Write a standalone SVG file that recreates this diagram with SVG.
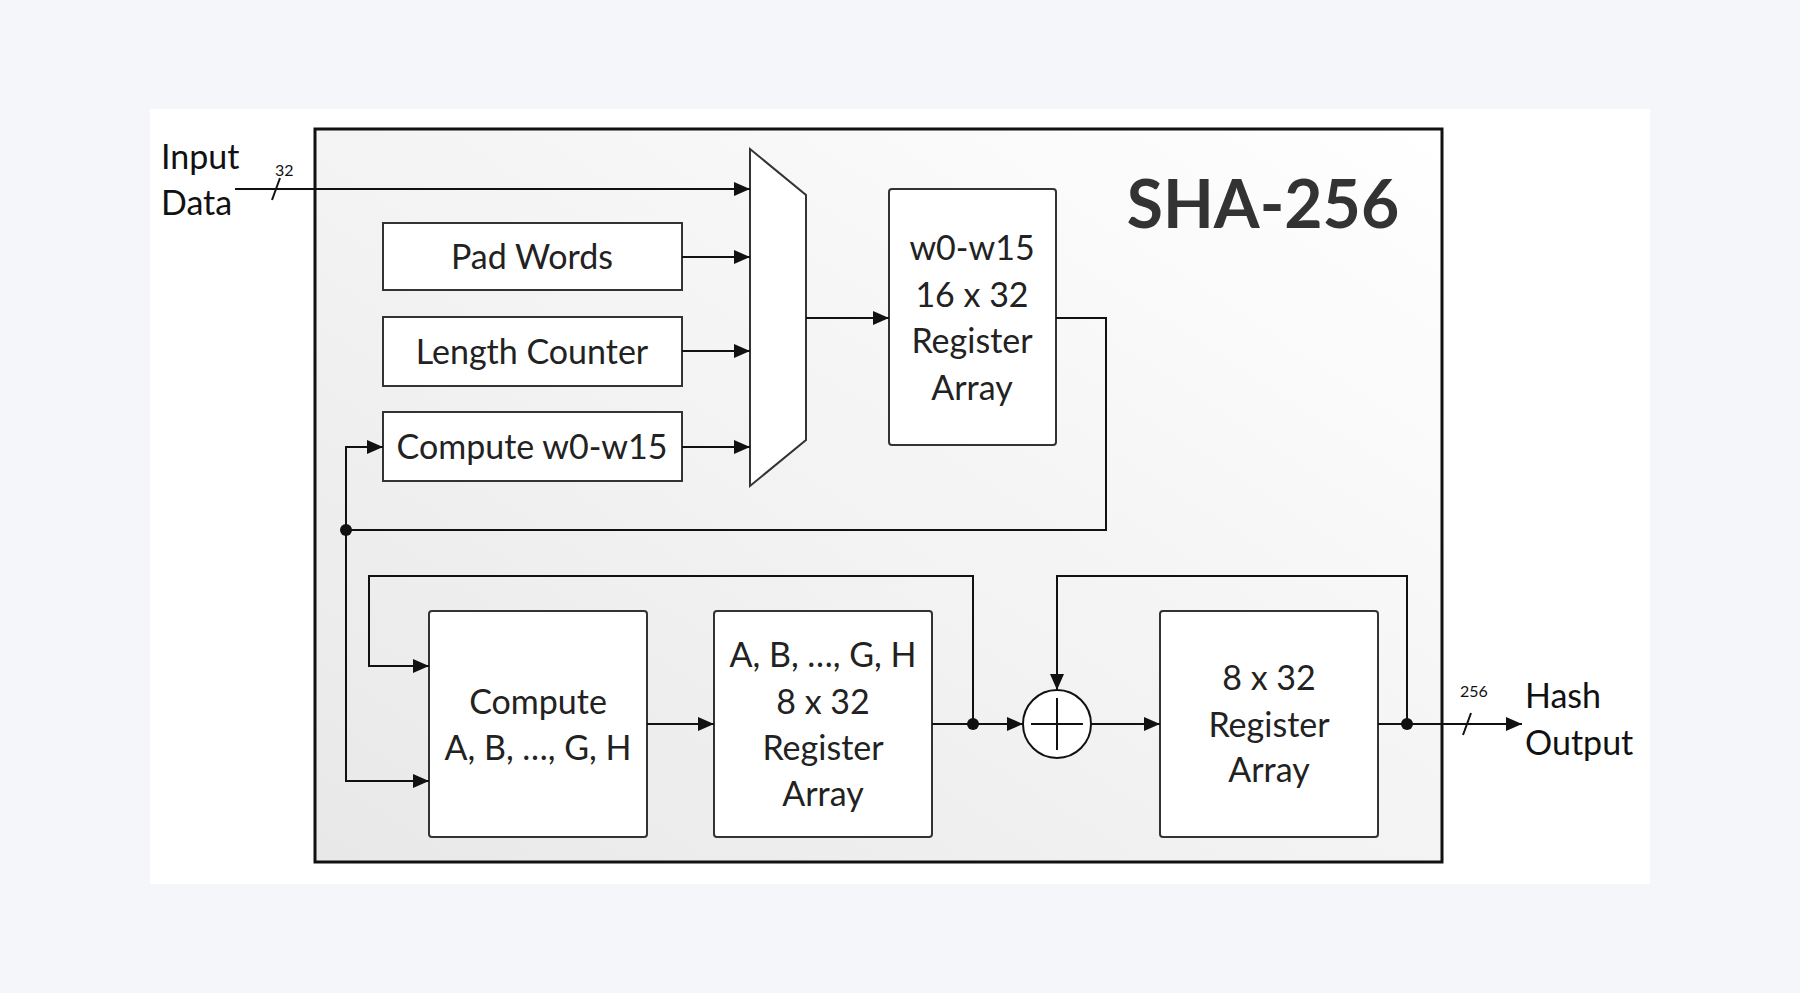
<svg xmlns="http://www.w3.org/2000/svg" width="1800" height="993" viewBox="0 0 1800 993">
<defs>
<linearGradient id="g" x1="0" y1="1" x2="1" y2="0"><stop offset="0" stop-color="#e8e8e8"/><stop offset="1" stop-color="#ffffff"/></linearGradient>
<marker id="a" markerWidth="16" markerHeight="14" refX="16" refY="7" orient="auto" markerUnits="userSpaceOnUse"><path d="M0,0 L16,7 L0,14 Z" fill="#111"/></marker>
<style>
.b{fill:#fff;stroke:#333;stroke-width:2}
.t{font-family:Lato,"Open Sans",sans-serif;font-size:34px;fill:#222;text-anchor:middle}
.l{font-family:Lato,"Open Sans",sans-serif;font-size:34px;fill:#111}
.s{font-family:Lato,"Open Sans",sans-serif;font-size:16px;fill:#111}
.w{fill:none;stroke:#111;stroke-width:2}
</style>
</defs>
<rect width="1800" height="993" fill="#f4f6f9"/>
<rect x="150" y="109" width="1500" height="775" fill="#fff"/>
<rect x="315" y="129" width="1127" height="733" fill="url(#g)" stroke="#111" stroke-width="3"/>
<text x="1263" y="228" font-family="Lato,'Open Sans',sans-serif" font-weight="bold" font-size="66" fill="#333" text-anchor="middle">SHA-256</text>
<text class="l" x="161" y="169">Input</text>
<text class="l" x="161" y="215">Data</text>
<text class="s" x="275" y="176">32</text>
<text class="s" x="1460" y="697">256</text>
<text class="l" x="1525" y="708">Hash</text>
<text class="l" x="1525" y="755">Output</text>
<g id="mux"><path d="M750,149 L806,195 L806,440 L750,486 Z" class="b"/></g>
<g id="pad"><rect class="b" x="383" y="223" width="299" height="67"/><text class="t" x="532" y="269">Pad Words</text></g>
<g id="len"><rect class="b" x="383" y="317" width="299" height="69"/><text class="t" x="532" y="364">Length Counter</text></g>
<g id="cw"><rect class="b" x="383" y="412" width="299" height="69"/><text class="t" x="532" y="459">Compute w0-w15</text></g>
<g id="wreg"><rect class="b" x="889" y="189" width="167" height="256" rx="3"/><text class="t" x="972" y="260">w0-w15</text><text class="t" x="972" y="307">16 x 32</text><text class="t" x="972" y="353">Register</text><text class="t" x="972" y="400">Array</text></g>
<g id="cah"><rect class="b" x="429" y="611" width="218" height="226" rx="3"/><text class="t" x="538" y="714">Compute</text><text class="t" x="538" y="760">A, B, …, G, H</text></g>
<g id="rah"><rect class="b" x="714" y="611" width="218" height="226" rx="3"/><text class="t" x="823" y="667">A, B, …, G, H</text><text class="t" x="823" y="714">8 x 32</text><text class="t" x="823" y="760">Register</text><text class="t" x="823" y="806">Array</text></g>
<g id="hreg"><rect class="b" x="1160" y="611" width="218" height="226" rx="3"/><text class="t" x="1269" y="690">8 x 32</text><text class="t" x="1269" y="737">Register</text><text class="t" x="1269" y="782">Array</text></g>
<g id="add"><circle cx="1057" cy="724" r="34" fill="#fff" stroke="#111" stroke-width="2"/><path d="M1057,698 V750 M1031,724 H1083" stroke="#111" stroke-width="2"/></g>
<g id="connectors">
<path class="w" d="M235,189 H750" marker-end="url(#a)"/>
<path class="w" d="M272,200 L280,178"/>
<path class="w" d="M682,257 H750" marker-end="url(#a)"/>
<path class="w" d="M682,351 H750" marker-end="url(#a)"/>
<path class="w" d="M682,447 H750" marker-end="url(#a)"/>
<path class="w" d="M806,318 H889" marker-end="url(#a)"/>
<path class="w" d="M1056,318 H1106 V530 H346"/>
<path class="w" d="M346,530 V447 H383" marker-end="url(#a)"/>
<path class="w" d="M346,530 V781 H429" marker-end="url(#a)"/>
<circle cx="346" cy="530" r="6" fill="#111"/>
<path class="w" d="M647,724 H714" marker-end="url(#a)"/>
<path class="w" d="M932,724 H1023" marker-end="url(#a)"/>
<path class="w" d="M973,724 V576 H369 V666 H429" marker-end="url(#a)"/>
<circle cx="973" cy="724" r="6" fill="#111"/>
<path class="w" d="M1091,724 H1160" marker-end="url(#a)"/>
<path class="w" d="M1378,724 H1522" marker-end="url(#a)"/>
<path class="w" d="M1463,735 L1471,713"/>
<path class="w" d="M1407,724 V576 H1057 V690" marker-end="url(#a)"/>
<circle cx="1407" cy="724" r="6" fill="#111"/>
</g>
</svg>
